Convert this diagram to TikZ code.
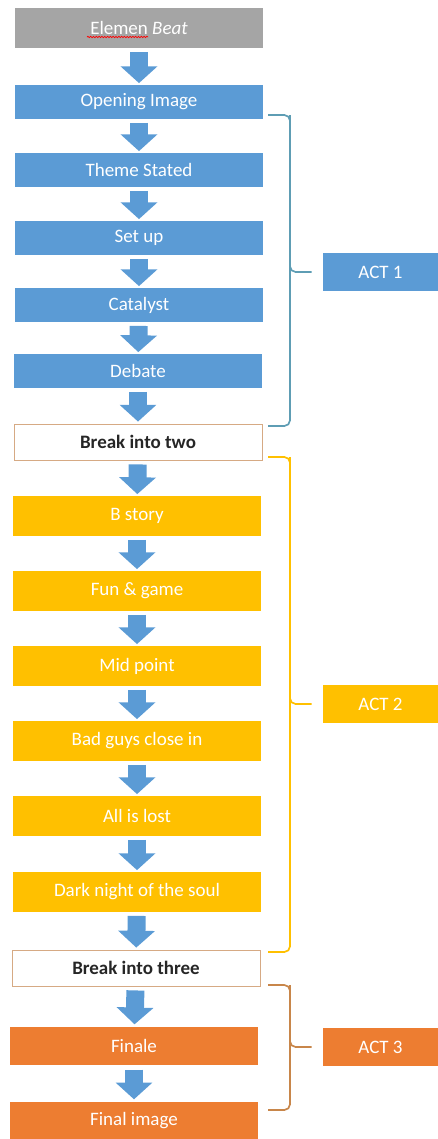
\documentclass[tikz,border=0pt]{standalone}
\usepackage{fontspec}
\setmainfont{Carlito}
\usetikzlibrary{calc,arrows.meta,decorations.pathmorphing}

\definecolor{beatgray}{HTML}{A5A5A5}
\definecolor{actblue}{HTML}{5B9BD5}
\definecolor{actgold}{HTML}{FFC000}
\definecolor{actorange}{HTML}{ED7D31}
\definecolor{breakline}{HTML}{D6AA84}
\definecolor{braceblue}{HTML}{5E9DB4}
\definecolor{bracebrown}{HTML}{C8864A}

\tikzset{
  box/.style={minimum width=6.2cm,inner sep=0pt,text=white,
    font=\fontsize{13.5}{15}\selectfont},
  graybox/.style={box,fill=beatgray,minimum height=1cm},
  bluebox/.style={box,fill=actblue,minimum height=0.83cm},
  goldbox/.style={box,fill=actgold,minimum height=0.98cm},
  orangebox/.style={box,fill=actorange,minimum height=0.97cm},
  breakbox/.style={box,fill=white,draw=breakline,line width=0.6pt,text=black!85,
    minimum height=0.9cm,font=\fontsize{13.5}{15}\selectfont\bfseries},
  actbox/.style={box,minimum width=2.875cm,minimum height=0.97cm},
  blockarrow/.style={draw=actblue,line width=0.45cm,
    -{Triangle[width=0.9cm,length=0.42cm]},shorten <=0.1cm,shorten >=0.05cm},
  actbrace/.style={line width=1.2pt,rounded corners=4pt}
}

\begin{document}
\begin{tikzpicture}[x=0.025cm,y=-0.025cm]
  \useasboundingbox (0,0) rectangle (438,1139);

  % beats
  \node[graybox]   (beat)  at (139,28)   {Elemen \textit{Beat}};
  \node[bluebox]   (open)  at (139,102)  {Opening Image};
  \node[bluebox]   (theme) at (139,170)  {Theme Stated};
  \node[bluebox]   (setup) at (139,238)  {Set up};
  \node[bluebox]   (cat)   at (139,305)  {Catalyst};
  \node[bluebox]   (deb)   at (138,371)  {Debate};
  \node[breakbox]  (two)   at (138,442)  {Break into two};
  \node[goldbox]   (bst)   at (137,516)  {B story};
  \node[goldbox]   (fun)   at (137,591)  {Fun \& game};
  \node[goldbox]   (mid)   at (137,666)  {Mid point};
  \node[goldbox]   (bad)   at (137,741)  {Bad guys close in};
  \node[goldbox]   (lost)  at (137,816)  {All is lost};
  \node[goldbox]   (dark)  at (137,892)  {Dark night of the soul};
  \node[breakbox]  (three) at (136,968)  {Break into three};
  \node[orangebox] (fin)   at (134,1046) {Finale};
  \node[orangebox] (fimg)  at (134,1121) {Final image};

  \draw[red,line width=0.5pt,decorate,decoration={snake,amplitude=0.5pt,segment length=2pt}]
    ($(beat.center)+(-52,9)$) -- ($(beat.center)+(9,9)$);

  \foreach \a/\b in {beat/open,open/theme,theme/setup,setup/cat,cat/deb,deb/two,
      two/bst,bst/fun,fun/mid,mid/bad,bad/lost,lost/dark,dark/three,three/fin,fin/fimg}
    \draw[blockarrow] (\a) -- (\b);

  % acts
  \node[actbox,fill=actblue]   (act1) at (380.5,272)  {ACT 1};
  \node[actbox,fill=actgold]   (act2) at (380.5,704)  {ACT 2};
  \node[actbox,fill=actorange] (act3) at (380.5,1047) {ACT 3};

  \foreach \t/\b/\a/\c in {115/426/act1/braceblue,457/952/act2/actgold,985/1110/act3/bracebrown}
    \draw[actbrace,\c] (268,\t) -- (290,\t) -- (290,\b) -- (268,\b)
      (290,\t) |- ($(\a.west)+(-11,0)$);
\end{tikzpicture}
\end{document}
